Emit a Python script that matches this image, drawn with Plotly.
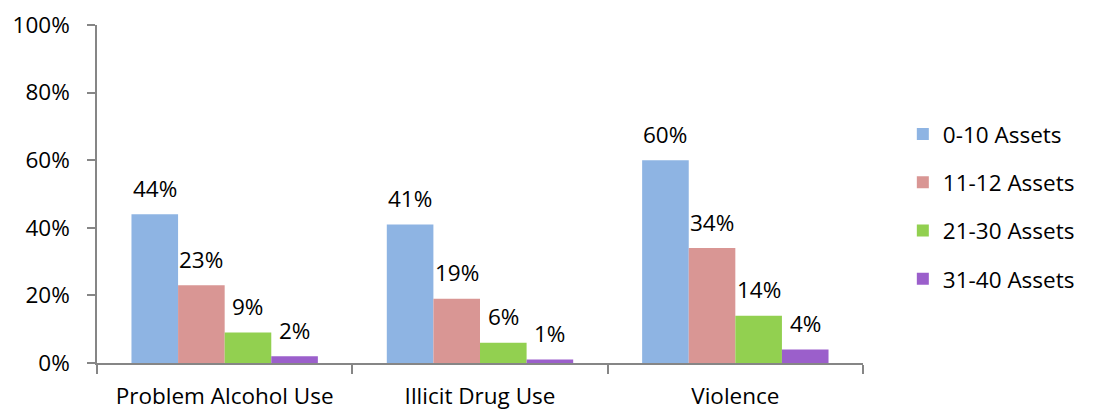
import plotly.graph_objects as go

categories = ["Problem Alcohol Use", "Illicit Drug Use", "Violence"]
series_names = ["0-10 Assets", "11-12 Assets", "21-30 Assets", "31-40 Assets"]
values = [
    [0.44, 0.41, 0.60],
    [0.23, 0.19, 0.34],
    [0.09, 0.06, 0.14],
    [0.02, 0.01, 0.04],
]
colors = ["#8EB4E3", "#D99694", "#92D050", "#9B5FCB"]
y_ticks = [0, 0.2, 0.4, 0.6, 0.8, 1.0]

FONT = "Open Sans"
FS = 22.5

W, H = 1094, 409
ML, MR, MT, MB = 97, 231, 25, 46
BARGAP = 0.27
plot_w = W - ML - MR
cat_w = plot_w / len(categories)
bar_w = cat_w * (1 - BARGAP) / len(series_names)

fig = go.Figure()
for i, (name, vals, col) in enumerate(zip(series_names, values, colors)):
    fig.add_trace(go.Bar(
        x=categories, y=vals, name=name, marker=dict(color=col, line=dict(width=0)),
        legendgroup=name,
    ))
    for c, v in zip(categories, vals):
        fig.add_annotation(
            x=c, y=v, xref="x", yref="y", text=f"{round(v*100)}%",
            showarrow=False, xshift=(i - 1.5) * bar_w, yshift=26,
            yanchor="middle", font=dict(family=FONT, size=FS, color="black"),
        )

fig.update_layout(
    width=W, height=H,
    margin=dict(l=ML, r=MR, t=MT, b=MB, pad=0, autoexpand=False),
    plot_bgcolor="white", paper_bgcolor="white",
    barmode="group", bargap=BARGAP, bargroupgap=0,
    font=dict(family=FONT, size=FS, color="black"),
    showlegend=True,
    legend=dict(
        x=1.052, xanchor="left", y=0.74, yanchor="top",
        traceorder="grouped", tracegroupgap=16,
        font=dict(family=FONT, size=FS, color="black"),
        itemclick=False,
    ),
    xaxis=dict(
        type="category", showline=True, linecolor="#868686", linewidth=1.5,
        ticks="outside", tickson="boundaries", ticklen=9, tickcolor="#868686",
        tickwidth=1.5, showgrid=False, zeroline=False, ticklabelstandoff=12,
        automargin=False,
    ),
    yaxis=dict(
        range=[0, 1], tickvals=y_ticks, tickformat=".0%", showline=True,
        linecolor="#868686", linewidth=1.5, ticks="outside", ticklen=8,
        tickcolor="#868686", tickwidth=1.5, showgrid=False, zeroline=False,
        ticklabelstandoff=13, automargin=False,
    ),
)

fig.write_html("out.html")
